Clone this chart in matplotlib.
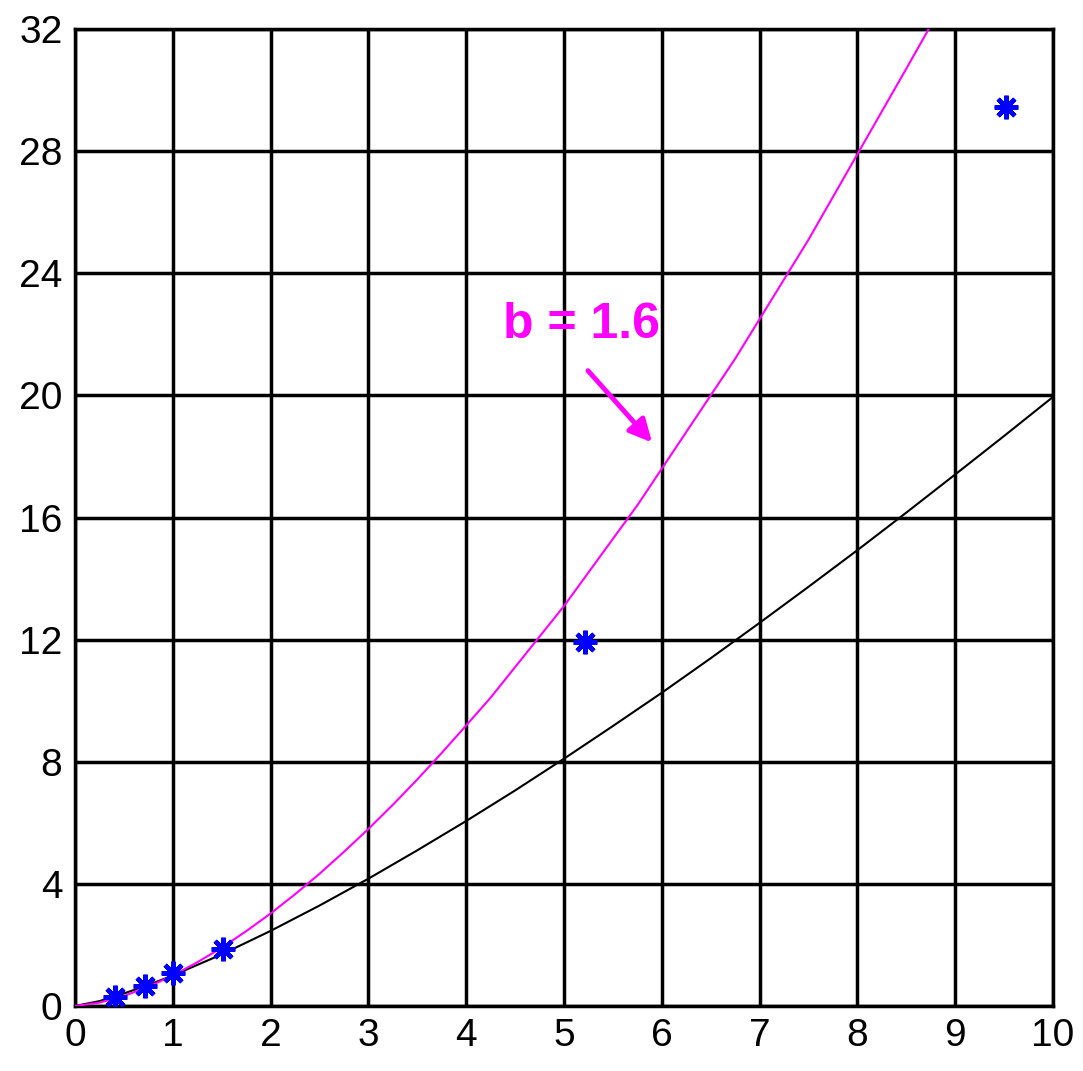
import matplotlib
matplotlib.use("Agg")
import matplotlib.pyplot as plt

# Power-law curve b = 1.6, sampled along x
x_curve = [0.0, 0.25, 0.5, 0.75, 1.0, 1.25, 1.5, 1.75, 2.0, 2.25, 2.5, 2.75,
           3.0, 3.25, 3.5, 3.75, 4.0, 4.25, 4.5, 4.75, 5.0, 5.25, 5.5, 5.75,
           6.0, 6.25, 6.5, 6.75, 7.0, 7.25, 7.5, 7.75, 8.0, 8.25, 8.5, 8.8]
y_b16 = [0.0, 0.11, 0.33, 0.63, 1.0, 1.43, 1.91, 2.45, 3.03, 3.66, 4.33, 5.05,
         5.80, 6.59, 7.42, 8.29, 9.19, 10.1, 11.1, 12.1, 13.1, 14.2, 15.3, 16.4,
         17.6, 18.8, 20.0, 21.2, 22.5, 23.8, 25.1, 26.5, 27.9, 29.3, 30.7, 32.4]

# Reference curve (black)
x_black = [0.0, 0.25, 0.5, 0.75, 1.0, 1.5, 2.0, 2.5, 3.0, 3.5, 4.0, 4.5, 5.0,
           5.5, 6.0, 6.5, 7.0, 7.5, 8.0, 8.5, 9.0, 9.5, 10.0]
y_black = [0.0, 0.16, 0.41, 0.69, 1.0, 1.69, 2.46, 3.29, 4.17, 5.10, 6.06, 7.06,
           8.10, 9.17, 10.26, 11.39, 12.55, 13.73, 14.93, 16.16, 17.41, 18.67,
           19.95]

# Measured points
x_pts = [0.41, 0.72, 1.0, 1.51, 5.21, 9.52]
y_pts = [0.29, 0.65, 1.07, 1.87, 11.92, 29.45]

x_ticks = list(range(0, 11))
y_ticks = list(range(0, 33, 4))

plt.rcParams['font.family'] = ['Liberation Sans', 'DejaVu Sans']

fig = plt.figure(figsize=(10.83, 10.71), dpi=100)
ax = fig.add_axes([75 / 1083, 65 / 1071, 978 / 1083, 977 / 1071])

ax.set_xlim(0, 10)
ax.set_ylim(0, 32)
ax.set_xticks(x_ticks)
ax.set_yticks(y_ticks)
ax.tick_params(length=0, labelsize=28, pad=9)
ax.grid(True, color='black', linewidth=2.5)
ax.set_axisbelow(True)
for s in ax.spines.values():
    s.set_linewidth(2.5)
    s.set_color('black')

ax.plot(x_black, y_black, color='black', linewidth=1.5, zorder=3)
ax.plot(x_curve, y_b16, color='#ff00ff', linewidth=1.5, zorder=4)
ax.plot(x_pts, y_pts, linestyle='none', marker=(8, 2, 0), markersize=17,
        markeredgewidth=3.2, color='#0000ff', markeredgecolor='#0000ff', zorder=5)

ax.annotate('', xy=(5.9, 18.46), xytext=(5.245, 20.81),
            arrowprops=dict(arrowstyle='-|>', color='#ff00ff', lw=3.5,
                            mutation_scale=34, shrinkA=0, shrinkB=0))
ax.text(4.376, 22.3, 'b = 1.6', color='#ff00ff', fontsize=36, fontweight='bold',
        ha='left', va='center')

fig.savefig('out.png', dpi=100)
